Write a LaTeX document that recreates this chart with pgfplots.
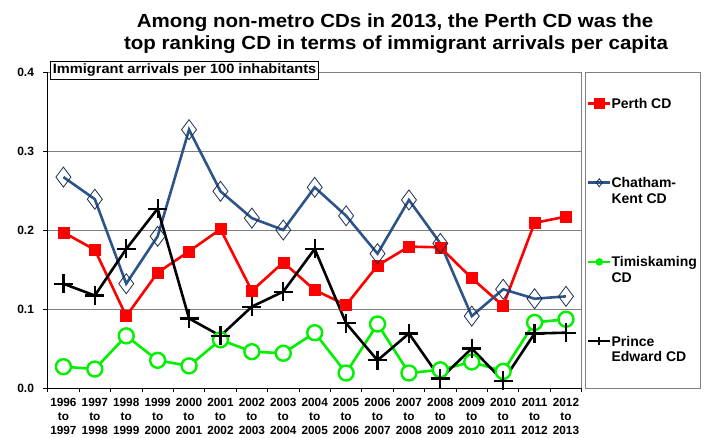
\documentclass[border=0pt]{standalone}
\usepackage{pgfplots}
\pgfplotsset{compat=1.18}
\usepackage{fontspec}
\setmainfont{Liberation Sans}
\newfontfamily\stretchfont{Liberation Sans}[FakeStretch=1.08]
\definecolor{perth}{RGB}{255,0,0}
\definecolor{ckline}{RGB}{44,84,136}
\definecolor{ckmark}{RGB}{24,44,84}
\definecolor{timi}{RGB}{0,240,0}
\definecolor{gridc}{RGB}{128,128,128}
\begin{document}
\begin{tikzpicture}[x=1pt,y=1pt]
\path[use as bounding box] (0,0) rectangle (712,438);
\node[font=\stretchfont\bfseries\fontsize{19}{22}\selectfont, anchor=base, inner sep=0pt] at (395,410.3) {Among non-metro CDs in 2013, the Perth CD was the};
\node[font=\stretchfont\bfseries\fontsize{19}{22}\selectfont, anchor=base, inner sep=0pt] at (396,388) {top ranking CD in terms of immigrant arrivals per capita};
\begin{axis}[
  at={(47.7pt,50pt)}, anchor=south west,
  scale only axis, width=534pt, height=316pt,
  xmin=-0.5, xmax=16.5, ymin=0, ymax=0.4,
  clip=false,
  axis line style={draw=none},
  xtick={-0.5,0.5,...,16.5}, xticklabels={},
  extra x ticks={0,1,...,16},
  extra x tick labels={1996\\to\\1997,1997\\to\\1998,1998\\to\\1999,1999\\to\\2000,2000\\to\\2001,2001\\to\\2002,2002\\to\\2003,2003\\to\\2004,2004\\to\\2005,2005\\to\\2006,2006\\to\\2007,2007\\to\\2008,2008\\to\\2009,2009\\to\\2010,2010\\to\\2011,2011\\to\\2012,2012\\to\\2013},
  extra x tick style={tick style={draw=none}, grid=none},
  xtick pos=bottom, ytick pos=left, tick align=outside,
  major tick length=4.5pt,
  tick style={black, line width=0.8pt},
  ytick={0,0.1,0.2,0.3,0.4},
  ymajorgrids, grid style={gridc, line width=0.9pt},
  xmajorgrids=false,
  yticklabel style={font=\bfseries\fontsize{12}{14}\selectfont, inner sep=0pt, xshift=-9pt, /pgf/number format/.cd, fixed, fixed zerofill, precision=1, assume math mode=true},
  xticklabel style={font=\bfseries\fontsize{11.8}{14}\selectfont, align=center, inner sep=0pt, yshift=-6pt},
  legend style={at={(rel axis cs:1.0095,0.923)}, anchor=north west, draw=none, fill=none,
    font=\bfseries\fontsize{14}{15.7}\selectfont, row sep=47.2pt, inner sep=0pt,
    nodes={text height=12pt, text depth=20pt, inner sep=0pt, anchor=base west}},
  legend cell align=left,
  legend image code/.code={\draw[mark repeat=2,mark phase=2, yshift=5pt] plot coordinates {(0pt,0pt) (11pt,0pt) (22pt,0pt)};},
]
% plot frame
\draw[gridc, line width=0.9pt] (rel axis cs:0,1) -- (rel axis cs:1,1) -- (rel axis cs:1,0);
\draw[black, line width=0.9pt] (rel axis cs:0,1) -- (rel axis cs:0,0) -- (rel axis cs:1,0);
% legend frame
\draw[gridc, line width=0.9pt] (rel axis cs:1.0075,0) rectangle (rel axis cs:1.2228,1);
\addplot[perth, line width=2.6pt, mark=square*, mark size=5.5pt, mark options={solid, fill=perth, line width=0.5pt},
  legend image post style={mark size=5pt}]
 coordinates {(0,0.197)(1,0.175)(2,0.091)(3,0.146)(4,0.173)(5,0.201)(6,0.123)(7,0.159)(8,0.124)(9,0.105)(10,0.155)(11,0.179)(12,0.178)(13,0.139)(14,0.104)(15,0.209)(16,0.217)};
\addlegendentry{Perth CD}
\addplot[ckline, line width=2.6pt, mark=diamond, mark size=10pt, mark options={solid, draw=ckmark, fill=none, line width=0.8pt},
  legend image post style={mark size=4pt}]
 coordinates {(0,0.267)(1,0.239)(2,0.132)(3,0.192)(4,0.327)(5,0.249)(6,0.215)(7,0.200)(8,0.254)(9,0.218)(10,0.170)(11,0.238)(12,0.183)(13,0.091)(14,0.125)(15,0.113)(16,0.116)};
\addlegendentry{\vtop{\hbox{Chatham-}\hbox{Kent CD}}}
\addplot[timi, line width=2.6pt, mark=*, mark size=7.5pt, mark options={solid, draw=timi, fill=white, line width=2.4pt},
  legend image post style={mark size=3pt, mark options={line width=1.5pt}}]
 coordinates {(0,0.027)(1,0.024)(2,0.066)(3,0.035)(4,0.028)(5,0.061)(6,0.046)(7,0.044)(8,0.070)(9,0.019)(10,0.081)(11,0.019)(12,0.023)(13,0.033)(14,0.021)(15,0.083)(16,0.087)};
\addlegendentry{\vtop{\hbox{Timiskaming}\hbox{CD}}}
\addplot[black, line width=2.6pt, mark=+, mark size=9.5pt, mark options={solid, line width=2.2pt},
  legend image post style={mark size=4pt}]
 coordinates {(0,0.132)(1,0.117)(2,0.176)(3,0.227)(4,0.088)(5,0.066)(6,0.103)(7,0.122)(8,0.176)(9,0.082)(10,0.035)(11,0.069)(12,0.012)(13,0.050)(14,0.009)(15,0.069)(16,0.070)};
\addlegendentry{\vtop{\hbox{Prince}\hbox{Edward CD}}}
\node[draw=black, line width=0.8pt, fill=white, anchor=north west, inner sep=2.5pt,
  font=\stretchfont\bfseries\fontsize{13.5}{15}\selectfont] at ([xshift=2.3pt,yshift=11pt]rel axis cs:0,1) {Immigrant arrivals per 100 inhabitants};
\end{axis}
\end{tikzpicture}
\end{document}
